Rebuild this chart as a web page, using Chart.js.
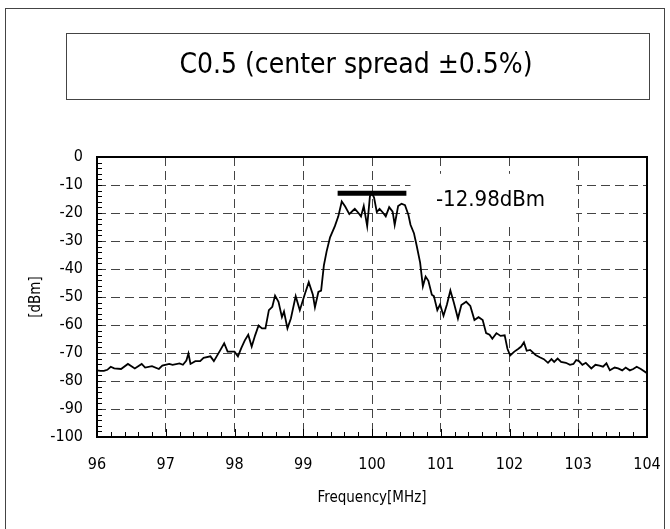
<!DOCTYPE html>
<html>
<head>
<meta charset="utf-8">
<script src="https://cdn.jsdelivr.net/npm/chart.js@4.4.0/dist/chart.umd.min.js"></script>
<style>
  html, body { margin: 0; padding: 0; background: #fff; }
  #wrap { width: 670px; height: 529px; }
</style>
</head>
<body>
<div id="wrap"><canvas id="spectrum" width="670" height="529"></canvas></div>
<script>
// spectrum trace (MHz / dBm)
const freqs = [
  96.00, 96.05, 96.10, 96.15, 96.20, 96.25, 96.35, 96.45, 96.55, 96.65,
  96.70, 96.80, 96.90, 96.95, 97.05, 97.10, 97.20, 97.25, 97.30, 97.33,
  97.36, 97.43, 97.50, 97.55, 97.65, 97.70, 97.80, 97.85, 97.90, 98.00,
  98.05, 98.10, 98.15, 98.20, 98.25, 98.30, 98.35, 98.40, 98.45, 98.50,
  98.55, 98.59, 98.64, 98.69, 98.72, 98.77, 98.82, 98.89, 98.95, 99.02,
  99.08, 99.14, 99.17, 99.22, 99.26, 99.30, 99.34, 99.39, 99.46, 99.51,
  99.56, 99.61, 99.67, 99.72, 99.75, 99.80, 99.84, 99.88, 99.93, 99.97,
  100.00, 100.03, 100.07, 100.11, 100.16, 100.20, 100.25, 100.30, 100.33, 100.38,
  100.43, 100.48, 100.53, 100.56, 100.61, 100.65, 100.70, 100.74, 100.78, 100.82,
  100.87, 100.90, 100.95, 100.99, 101.04, 101.09, 101.14, 101.19, 101.25, 101.30,
  101.37, 101.43, 101.49, 101.55, 101.61, 101.66, 101.71, 101.75, 101.81, 101.87,
  101.93, 101.97, 102.01, 102.07, 102.13, 102.17, 102.21, 102.25, 102.30, 102.38,
  102.44, 102.50, 102.56, 102.61, 102.65, 102.70, 102.75, 102.82, 102.88, 102.93,
  102.97, 103.01, 103.06, 103.11, 103.19, 103.25, 103.31, 103.36, 103.41, 103.46,
  103.53, 103.58, 103.64, 103.69, 103.75, 103.80, 103.85, 103.91, 104.00
];
const levels = [
  -76.2, -76.4, -76.4, -76.0, -74.9, -75.5, -75.7, -73.9, -75.5, -73.9,
  -75.2, -74.7, -75.7, -74.5, -73.9, -74.2, -73.7, -74.2, -72.7, -70.2,
  -73.9, -72.9, -72.9, -71.7, -71.2, -72.9, -68.7, -66.5, -69.5, -69.5,
  -71.2, -68.2, -65.5, -63.5, -67.7, -63.7, -60.2, -61.2, -61.2, -54.7,
  -53.5, -49.5, -51.7, -57.2, -55.2, -61.2, -57.7, -49.7, -54.7, -49.2,
  -44.7, -49.2, -53.7, -48.2, -47.7, -38.7, -33.7, -28.7, -24.7, -21.2,
  -15.9, -17.7, -20.4, -19.2, -18.5, -19.9, -21.2, -17.5, -24.7, -14.0,
  -12.98, -14.5, -19.7, -18.5, -19.9, -21.2, -17.9, -19.5, -24.2, -17.5,
  -16.7, -17.2, -20.7, -24.2, -27.2, -31.7, -37.7, -46.2, -42.7, -44.2,
  -49.2, -49.7, -54.7, -52.7, -56.7, -52.7, -47.7, -52.0, -57.7, -52.9,
  -51.7, -53.2, -58.2, -57.2, -58.2, -62.9, -63.5, -64.9, -62.9, -63.9,
  -63.7, -68.5, -70.9, -69.5, -68.5, -67.7, -66.2, -69.2, -68.9, -70.7,
  -71.5, -72.2, -73.5, -72.2, -73.2, -72.0, -73.2, -73.5, -74.2, -73.9,
  -72.5, -72.9, -74.2, -73.5, -75.5, -74.2, -74.5, -74.9, -73.7, -76.2,
  -75.2, -75.5, -76.2, -75.2, -76.2, -75.7, -74.9, -75.7, -77.2
];
// peak marker
const markerFreqs = [99.5, 100.5];
const markerLevel = -12.98;
const markerLabel = '-12.98dBm';

const xTicks = [96, 97, 98, 99, 100, 101, 102, 103, 104];
const yTicks = [0, -10, -20, -30, -40, -50, -60, -70, -80, -90, -100];
const chartTitle = 'C0.5 (center spread \u00B10.5%)';

const NARROW = '"Liberation Sans Narrow", "DejaVu Sans Condensed", "Arial Narrow", sans-serif';

const framePlugin = {
  id: 'frame',
  beforeDraw(chart) {
    const ctx = chart.ctx;
    ctx.save();
    ctx.fillStyle = '#fff';
    ctx.fillRect(0, 0, chart.width, chart.height);
    ctx.strokeStyle = '#444';
    ctx.lineWidth = 1;
    ctx.strokeRect(5.5, 8.5, 659, 540);
    ctx.strokeRect(66.5, 33.5, 583, 66);
    ctx.fillStyle = '#000';
    ctx.font = '28px ' + NARROW;
    ctx.textAlign = 'center';
    ctx.textBaseline = 'middle';
    ctx.fillText(chartTitle, 356, 66);
    ctx.restore();
  }
};

const markerPlugin = {
  id: 'marker',
  beforeDatasetsDraw(chart) {
    // white backing behind the marker label hides the grid there
    const {ctx, scales: {x, y}} = chart;
    const l = x.getPixelForValue(100.56), r = x.getPixelForValue(102.97);
    const t = y.getPixelForValue(-6), b = y.getPixelForValue(-24);
    ctx.save();
    ctx.fillStyle = '#fff';
    ctx.fillRect(l, t, r - l, b - t);
    ctx.restore();
  },
  afterDatasetsDraw(chart) {
    const {ctx, chartArea: a, scales: {x, y}} = chart;
    ctx.save();
    ctx.fillStyle = '#000';
    ctx.font = '22px ' + NARROW;
    ctx.textAlign = 'left';
    ctx.textBaseline = 'middle';
    ctx.fillText(markerLabel, x.getPixelForValue(100.93), y.getPixelForValue(-15.5));

    // inner minor ticks
    ctx.strokeStyle = '#000';
    ctx.lineWidth = 1;
    ctx.beginPath();
    for (let v = -98; v < 0; v += 2) {
      const py = Math.round(y.getPixelForValue(v)) + 0.5;
      ctx.moveTo(a.left, py);
      ctx.lineTo(a.left + 5, py);
    }
    for (let i = 1; i < 40; i++) {
      const px = Math.round(x.getPixelForValue(96 + i * 0.2)) + 0.5;
      ctx.moveTo(px, a.bottom);
      ctx.lineTo(px, a.bottom - (i % 5 === 0 ? 8 : 5));
    }
    ctx.stroke();

    ctx.lineWidth = 2;
    ctx.strokeRect(a.left, a.top, a.right - a.left, a.bottom - a.top);
    ctx.restore();
  }
};

new Chart(document.getElementById('spectrum'), {
  type: 'line',
  data: {
    datasets: [{
      data: freqs.map((f, i) => ({x: f, y: levels[i]})),
      borderColor: '#000',
      borderWidth: 1.8,
      pointRadius: 0,
      tension: 0
    }, {
      data: markerFreqs.map(f => ({x: f, y: markerLevel})),
      borderColor: '#000',
      borderWidth: 5,
      borderCapStyle: 'butt',
      pointRadius: 0
    }]
  },
  options: {
    responsive: false,
    animation: false,
    devicePixelRatio: 1,
    layout: { padding: { top: 157, right: 23, bottom: 0, left: 0 } },
    plugins: { legend: { display: false }, tooltip: { enabled: false } },
    scales: {
      x: {
        type: 'linear', min: 96, max: 104,
        afterBuildTicks: s => { s.ticks = xTicks.map(v => ({value: v})); },
        afterFit: s => { s.height = 92; s.paddingLeft = 0; s.paddingRight = 0; },
        ticks: { color: '#000', padding: 18, font: { family: NARROW, size: 16 } },
        grid: { color: '#444', lineWidth: 1, drawTicks: false },
        border: { display: false, dash: [9, 5] },
        title: { display: true, text: 'Frequency[MHz]', color: '#000',
                 font: { family: NARROW, size: 15 }, padding: { top: 0, bottom: 22 } }
      },
      y: {
        type: 'linear', min: -100, max: 0,
        afterBuildTicks: s => { s.ticks = yTicks.map(v => ({value: v})); },
        afterFit: s => { s.width = 97; s.paddingTop = 0; s.paddingBottom = 0; },
        ticks: { color: '#000', padding: 14, font: { family: NARROW, size: 16 } },
        grid: { color: '#444', lineWidth: 1, drawTicks: false },
        border: { display: false, dash: [9, 5] },
        title: { display: true, text: '[dBm]', color: '#000',
                 font: { family: NARROW, size: 15 }, padding: { top: 27, bottom: 0 } }
      }
    }
  },
  plugins: [framePlugin, markerPlugin]
});
</script>
</body>
</html>
